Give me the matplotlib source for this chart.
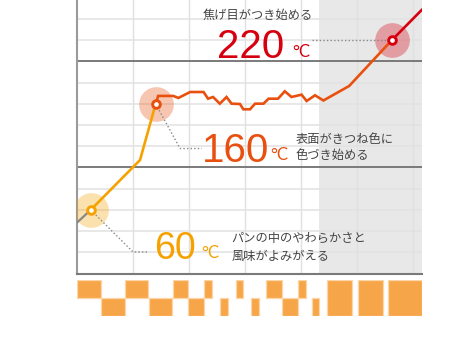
import numpy as np
import matplotlib
matplotlib.use("Agg")
import matplotlib.pyplot as plt

plt.rcParams['font.family'] = ['Noto Sans CJK JP', 'DejaVu Sans']

# 温度カーブ (x: 経過時間, y: 温度 ℃)
pre_t = [0, 2.45]
pre_temp = [48, 60]
rise_t = [2.45, 11.25, 14.05]
rise_temp = [60, 107, 160]
mid_t = [14.05, 14.5, 17.2, 18.1, 20.2, 22.6, 23.4, 24.3, 25.5, 26.7, 27.6, 29.1,
         29.7, 30.9, 31.8, 33.3, 34.2, 35.9, 37.1, 38.3, 40.1, 41.0, 42.5, 44.0,
         48.6, 56.2]
mid_temp = [160, 167.5, 167.5, 165.6, 171.2, 171.2, 164.9, 166.5, 160.2, 166.5, 160.2, 159.9,
            154.9, 154.9, 160.2, 160.2, 164.9, 164.9, 171.9, 166.5, 168.7, 162.7, 168.1, 163.2,
            176.9, 220]
end_t = [56.2, 61.55]
end_temp = [220, 248.6]

# ポイント
pt_t = [2.45, 14.05, 56.2]
pt_temp = [60, 160, 220]
pt_color = ['#F5A200', '#E8500F', '#D7000F']

shade_from = 43.2
x_max = 61.55
y_max = 258

# 下部のブロック (開始, 終了)
top_blocks = [(0, 4.29), (8.52, 12.68), (17.09, 19.88), (22.71, 24.14),
              (28.34, 29.70), (33.75, 36.66), (39.52, 40.89)]
bot_blocks = [(4.29, 8.50), (12.86, 17.02), (19.88, 22.68), (25.54, 26.91),
              (31.07, 32.5), (36.66, 39.52), (41.91, 43.27)]
full_blocks = [(44.59, 49.05), (50.11, 54.68), (55.59, 61.55)]

W, H = 457, 361
fig = plt.figure(figsize=(W / 100, H / 100), dpi=100)
L, R, B = 77, 421.7, 273.5
ax = fig.add_axes([L / W, 1 - B / H, (R - L) / W, B / H])
ax.set_xlim(0, x_max)
ax.set_ylim(0, y_max)

ax.axvspan(shade_from, x_max, color='#E8E8E8', zorder=0, lw=0)
for v in range(20, 260, 20):
    if v % 100:
        ax.axhline(v, color='#E2E2E2', lw=1.1, zorder=1)
for v in range(10, 61, 10):
    ax.axvline(v, color='#E0E0E0', lw=1.0, zorder=1)
for v in (100, 200):
    ax.axhline(v, color='#7A7A7A', lw=1.4, zorder=2)

for s in ('top', 'right'):
    ax.spines[s].set_visible(False)
ax.spines['left'].set_color('#9A9A9A')
ax.spines['left'].set_linewidth(1.5)
ax.spines['bottom'].set_color('#7A7A7A')
ax.spines['bottom'].set_linewidth(1.5)
ax.set_xticks([]); ax.set_yticks([])

# halos
for t, v, c in zip(pt_t, pt_temp, pt_color):
    ax.plot(t, v, 'o', ms=25, color=c, alpha=0.32, mew=0, zorder=3)

ax.plot(pre_t, pre_temp, color='#888888', lw=1.6, zorder=4)
ax.plot(rise_t, rise_temp, color=pt_color[0], lw=1.9, zorder=4, solid_joinstyle='miter')
ax.plot(mid_t, mid_temp, color=pt_color[1], lw=1.9, zorder=4, solid_joinstyle='miter')
ax.plot(end_t, end_temp, color=pt_color[2], lw=1.9, zorder=4)

# leader lines
dot = dict(color='#888888', lw=1.0, ls=(0, (1, 1.6)), zorder=3.5)
ax.plot([42.0, 56.2], [220, 220], **dot)
ax.plot([14.05, 18.4, 22.3], [160, 117.9, 117.9], **dot)
ax.plot([2.45, 10.0, 12.7], [60, 20.3, 20.3], **dot)

for t, v, c in zip(pt_t, pt_temp, pt_color):
    ax.plot(t, v, 'o', ms=5.5, mfc='white', mec=c, mew=2.1, zorder=5)

big = dict(family=['Liberation Sans', 'DejaVu Sans'], va='baseline', zorder=6)
unit = dict(family=['Lato', 'DejaVu Sans'], va='baseline', zorder=6)
lab = dict(fontsize=8.8, color='#444444', va='center', zorder=6)

ax.text(22.5, 243, '焦げ目がつき始める', **lab)
ax.text(25.0, 203, '220', fontsize=29, color=pt_color[2], **big)
ax.text(38.4, 203.8, '°C', fontsize=12, color=pt_color[2], **unit)

ax.text(22.3, 105.2, '160', fontsize=29, color=pt_color[1], **big)
ax.text(34.5, 106.6, '°C', fontsize=12, color=pt_color[1], **unit)
ax.text(39.05, 126.6, '表面がきつね色に', **lab)
ax.text(39.05, 111.1, '色づき始める', **lab)

ax.text(13.7, 13.4, '60', fontsize=27, color=pt_color[0], **big)
ax.text(22.2, 14.2, '°C', fontsize=12, color=pt_color[0], **unit)
ax.text(27.6, 33.2, 'パンの中のやわらかさと', **lab)
ax.text(27.6, 16.5, '風味がよみがえる', **lab)

# 下のブロック
bx = fig.add_axes([L / W, 1 - 316 / H, (R - L) / W, 36 / H])
bx.set_xlim(0, x_max)
bx.set_ylim(0, 2)
bx.axis('off')
blk = dict(facecolor='#F6A548', edgecolor='#FDD6A8', linewidth=0.9)
bx.broken_barh([(a, b - a) for a, b in top_blocks], (1, 1), **blk)
bx.broken_barh([(a, b - a) for a, b in bot_blocks], (0, 1), **blk)
bx.broken_barh([(a, b - a) for a, b in full_blocks], (0, 2), **blk)

fig.savefig('out.png', dpi=100)
